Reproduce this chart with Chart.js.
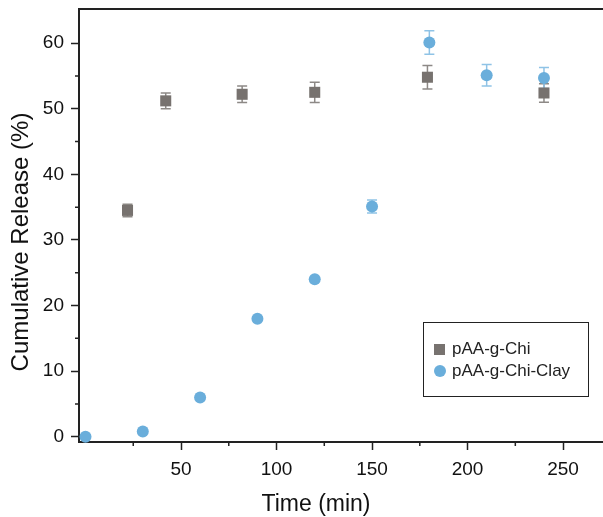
<!DOCTYPE html>
<html>
<head>
<meta charset="utf-8">
<script src="https://cdn.jsdelivr.net/npm/chart.js@4.4.0/dist/chart.umd.min.js"></script>
<style>
    body { margin: 0; background: #fff; }
    #caixa { position: relative; width: 603px; height: 517px; }
    #legenda {
        position: absolute; left: 423px; top: 322px; width: 166px; height: 75px;
        border: 1.5px solid #222; box-sizing: border-box; padding-top: 15px; padding-left: 10px;
        font-family: 'Liberation Sans', Arial, sans-serif; font-size: 17px; color: #222;
    }
    .item { height: 22px; line-height: 22px; display: flex; align-items: center; }
    .marca { width: 11px; height: 11px; margin-right: 7px; }
</style>
</head>
<body>
<div id="caixa">
    <canvas id="grafico" width="603" height="517"></canvas>
    <div id="legenda"></div>
</div>
<script>
// dados
var tempoChi = [22, 42, 82, 120, 179, 240];
var liberacaoChi = [34.5, 51.2, 52.2, 52.5, 54.8, 52.4];
var erroChi = [0.95, 1.2, 1.25, 1.55, 1.8, 1.4];

var tempoClay = [0, 30, 60, 90, 120, 150, 180, 210, 240];
var liberacaoClay = [0, 0.8, 6.0, 18.0, 24.0, 35.1, 60.1, 55.1, 54.7];
var erroClay = [0, 0, 0, 0, 0, 1.0, 1.8, 1.65, 1.6];

var ticksX = [50, 100, 150, 200, 250];
var ticksXMenor = [25, 75, 125, 175, 225];
var ticksY = [0, 10, 20, 30, 40, 50, 60];
var ticksYMenor = [5, 15, 25, 35, 45, 55];

var corChi = '#77726f';
var corChiErro = '#8d8986';
var corClay = '#6aaedb';
var corClayErro = '#8fc3e6';
var fonte = "'Liberation Sans', Arial, sans-serif";

function montarPontos(xs, ys) {
    var pontos = [];
    for (var i = 0; i < xs.length; i++) {
        pontos.push({ x: xs[i], y: ys[i] });
    }
    return pontos;
}

// barras de erro, eixo de cima, ticks menores e titulos dos eixos
const pluginExtras = {
    id: 'extras',
    afterLayout(chart) {
        // o grafico original vai ate a borda direita
        const sx = chart.scales.x;
        sx.right = chart.width;
        sx.width = sx.right - sx.left;
        sx.configure();
        chart.chartArea.right = chart.width;
        chart.chartArea.width = chart.chartArea.right - chart.chartArea.left;
    },
    beforeDatasetsDraw(chart) {
        const ctx = chart.ctx;
        const sx = chart.scales.x, sy = chart.scales.y;
        const series = [
            { xs: tempoChi, ys: liberacaoChi, es: erroChi, cor: corChiErro },
            { xs: tempoClay, ys: liberacaoClay, es: erroClay, cor: corClayErro }
        ];
        ctx.save();
        ctx.lineWidth = 1.5;
        series.forEach(s => {
            ctx.strokeStyle = s.cor;
            for (var i = 0; i < s.xs.length; i++) {
                if (!s.es[i]) continue;
                var px = sx.getPixelForValue(s.xs[i]);
                var topo = sy.getPixelForValue(s.ys[i] + s.es[i]);
                var base = sy.getPixelForValue(s.ys[i] - s.es[i]);
                ctx.beginPath();
                ctx.moveTo(px, topo); ctx.lineTo(px, base);
                ctx.moveTo(px - 5, topo); ctx.lineTo(px + 5, topo);
                ctx.moveTo(px - 5, base); ctx.lineTo(px + 5, base);
                ctx.stroke();
            }
        });
        ctx.restore();
    },
    afterDraw(chart) {
        const ctx = chart.ctx;
        const area = chart.chartArea;
        const sx = chart.scales.x, sy = chart.scales.y;
        ctx.save();
        ctx.strokeStyle = '#222';
        ctx.lineWidth = 2;
        ctx.beginPath();
        ctx.moveTo(area.left, area.top);
        ctx.lineTo(area.right, area.top);
        ctx.stroke();

        ctx.lineWidth = 1.5;
        ctx.beginPath();
        ticksXMenor.forEach(v => {
            var px = sx.getPixelForValue(v);
            ctx.moveTo(px, area.bottom);
            ctx.lineTo(px, area.bottom + 4);
        });
        ticksYMenor.forEach(v => {
            var py = sy.getPixelForValue(v);
            ctx.moveTo(area.left, py);
            ctx.lineTo(area.left - 4, py);
        });
        ctx.stroke();

        ctx.fillStyle = '#111';
        ctx.textAlign = 'center';
        ctx.textBaseline = 'middle';
        ctx.font = '23px ' + fonte;
        ctx.fillText('Time (min)', 316, 505);

        ctx.translate(21, 242);
        ctx.rotate(-Math.PI / 2);
        ctx.font = '24px ' + fonte;
        ctx.fillText('Cumulative Release (%)', 0, 0);
        ctx.restore();
    }
};

const config = {
    type: 'scatter',
    data: {
        datasets: [{
            label: 'pAA-g-Chi',
            data: montarPontos(tempoChi, liberacaoChi),
            pointStyle: 'rect',
            pointRadius: 7.8,
            pointHoverRadius: 7.8,
            backgroundColor: corChi,
            borderColor: corChi,
            borderWidth: 0,
            clip: false
        },
        {
            label: 'pAA-g-Chi-Clay',
            data: montarPontos(tempoClay, liberacaoClay),
            pointStyle: 'circle',
            pointRadius: 6,
            pointHoverRadius: 6,
            backgroundColor: corClay,
            borderColor: corClay,
            borderWidth: 0,
            clip: false
        }]
    },
    options: {
        responsive: false,
        animation: false,
        layout: { padding: { top: 9, right: 0, left: 0, bottom: 0 } },
        scales: {
            x: {
                type: 'linear',
                min: -3.4,
                max: 270.9,
                afterBuildTicks: scale => { scale.ticks = ticksX.map(v => ({ value: v })); },
                afterFit: scale => {
                    scale.height = 75;
                    scale.paddingLeft = 0;
                    scale.paddingRight = 0;
                },
                border: { display: true, color: '#222', width: 2 },
                grid: { display: true, drawOnChartArea: false, tickLength: 8, tickWidth: 1.5, tickColor: '#222' },
                ticks: { color: '#111', font: { size: 19, family: fonte }, padding: 8, maxRotation: 0 }
            },
            y: {
                min: -0.8,
                max: 65.2,
                afterBuildTicks: scale => { scale.ticks = ticksY.map(v => ({ value: v })); },
                afterFit: scale => {
                    scale.width = 79;
                    scale.paddingTop = 0;
                    scale.paddingBottom = 0;
                },
                border: { display: true, color: '#222', width: 2 },
                grid: { display: true, drawOnChartArea: false, tickLength: 8, tickWidth: 1.5, tickColor: '#222' },
                ticks: { color: '#111', font: { size: 19, family: fonte }, padding: 7 }
            }
        },
        plugins: {
            legend: { display: false },
            tooltip: { enabled: false }
        }
    },
    plugins: [pluginExtras]
};

let grafico = new Chart(document.getElementById('grafico'), config);

// legenda em html, a partir dos datasets
var legenda = document.getElementById('legenda');
grafico.data.datasets.forEach(ds => {
    var item = document.createElement('div');
    item.className = 'item';
    var marca = document.createElement('span');
    marca.className = 'marca';
    marca.style.background = ds.backgroundColor;
    if (ds.pointStyle == 'circle') {
        marca.style.borderRadius = '50%';
        marca.style.width = '12px';
        marca.style.height = '12px';
        marca.style.marginRight = '6px';
    }
    item.appendChild(marca);
    item.appendChild(document.createTextNode(ds.label));
    legenda.appendChild(item);
});
</script>
</body>
</html>
